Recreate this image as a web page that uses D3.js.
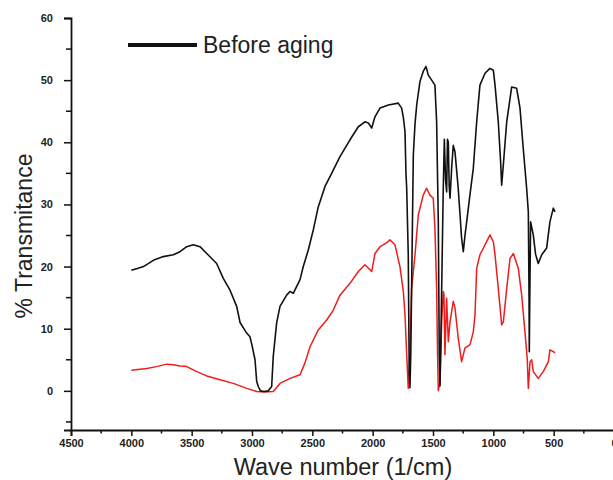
<!DOCTYPE html>
<html>
<head>
<meta charset="utf-8">
<script src="https://cdn.jsdelivr.net/npm/d3@7"></script>
<style>
  html, body { margin: 0; padding: 0; background: #fff; }
  svg { display: block; }
</style>
</head>
<body>
<svg id="chart" width="613" height="480"></svg>
<script>
// ---- data ----
const xTicks = [4500, 4000, 3500, 3000, 2500, 2000, 1500, 1000, 500, 0];
const yTicks = [0, 10, 20, 30, 40, 50, 60];
const legendLabel = "Before aging";
const xTitle = "Wave number (1/cm)";
const yTitle = "% Transmitance";

const beforeWave = [4000,3950,3900,3850,3818,3735,3652,3597,3541,3486,3431,3375,3293,3238,3182,3127,3099,3044,3017,3003,2975,2961,2948,2930,2900,2865,2837,2824,2796,2768,2713,2685,2658,2602,2575,2533,2492,2451,2395,2340,2271,2188,2119,2064,2036,2008,1981,1939,1870,1788,1760,1746,1732,1724,1718,1705,1697,1691,1684,1677,1663,1649,1635,1608,1581,1558,1539,1511,1484,1470,1456,1448,1442,1435,1428,1415,1406,1396,1387,1380,1373,1366,1359,1345,1332,1318,1291,1263,1249,1235,1221,1194,1166,1138,1111,1069,1028,1000,986,959,940,931,917,889,848,807,779,752,724,710,704,702,698,691,669,650,628,599,558,531,503,489];
const beforeT = [19.4,19.7,20.0,20.6,21.0,21.6,21.9,22.4,23.2,23.5,23.2,22.1,20.5,18.1,16.2,13.6,11.0,9.3,8.7,7.6,5.0,1.5,0.7,0.0,-0.1,0.0,0.7,5.5,10.9,13.6,15.4,16.0,15.7,17.9,20.0,22.7,25.9,29.6,32.9,35.0,37.7,40.4,42.5,43.3,43.1,42.3,44.1,45.5,46.0,46.3,45.5,44.0,41.7,35.0,32.6,21.9,3.1,0.5,6.0,17.0,38.0,43.0,46.0,49.8,51.4,52.2,50.8,50.0,49.2,43.3,27.2,5.8,0.8,8.0,16.6,32.6,40.5,34.0,32.0,40.5,40.0,33.0,31.0,36.0,39.5,38.5,32.6,24.6,22.4,25.0,27.2,31.5,35.8,43.3,49.2,51.1,51.9,51.6,49.2,43.3,37.0,33.1,36.4,43.3,48.9,48.7,45.5,39.0,32.6,28.8,15.0,6.3,15.0,27.2,25.1,22.0,20.5,21.9,23.0,27.2,29.4,28.8];

const afterWave = [4000,3873,3790,3707,3650,3597,3541,3458,3375,3265,3155,3044,2961,2900,2824,2768,2685,2602,2561,2519,2451,2381,2326,2271,2188,2119,2064,2022,2008,1981,1939,1884,1857,1815,1774,1746,1732,1718,1705,1691,1677,1649,1622,1581,1553,1525,1498,1484,1470,1462,1456,1442,1428,1415,1409,1401,1387,1373,1359,1332,1318,1291,1263,1235,1194,1166,1152,1138,1111,1069,1028,1000,986,959,931,917,889,862,834,793,765,738,719,710,696,682,669,628,586,544,531,503,489];
const afterT = [3.3,3.6,3.9,4.3,4.2,4.0,3.9,3.1,2.4,1.8,1.2,0.4,-0.1,-0.2,-0.1,1.2,2.0,2.6,4.5,7.1,9.8,11.4,13.0,15.4,17.3,19.2,20.3,19.5,19.2,22.1,23.2,23.8,24.3,23.5,20.0,16.0,12.2,5.8,0.4,5.8,16.5,21.9,28.3,31.5,32.6,31.5,31.0,26.2,16.5,5.8,0.0,1.5,11.1,16.0,15.5,5.8,14.9,7.9,11.1,14.4,13.4,8.5,4.7,6.9,7.4,9.5,12.2,19.7,21.9,23.5,25.1,24.0,21.9,16.5,10.6,11.1,16.5,21.3,22.1,19.7,15.4,9.5,5.2,0.4,4.7,5.0,3.1,2.0,3.1,4.7,6.6,6.3,6.1];

// ---- drawing ----
const svg = d3.select("#chart");
const x = d3.scaleLinear().domain([4500, 0]).range([71, 614]);
const y = d3.scaleLinear().domain([-6.3, 60]).range([430, 18]);
const font = "'Liberation Sans', Arial, sans-serif";

const line = d3.line().x(d => x(d[0])).y(d => y(d[1]));

const after = afterWave.map((w, i) => [w, afterT[i]]);
const before = beforeWave.map((w, i) => [w, beforeT[i]]);

svg.append("path").datum(after)
  .attr("d", line).attr("fill", "none")
  .attr("stroke", "#ee1c1c").attr("stroke-width", 1.5).attr("stroke-linejoin", "round");
svg.append("path").datum(before)
  .attr("d", line).attr("fill", "none")
  .attr("stroke", "#111").attr("stroke-width", 1.6).attr("stroke-linejoin", "round");

// x axis
const xMinor = d3.range(4250, -1, -500);
const gx = svg.append("g").attr("transform", `translate(0,${y(-6.3)})`);
gx.call(d3.axisBottom(x).tickValues(xTicks).tickSize(6).tickPadding(3).tickFormat(d3.format("d")));
gx.append("g").selectAll("line").data(xMinor).join("line")
  .attr("x1", d => x(d)).attr("x2", d => x(d)).attr("y1", 0).attr("y2", 3.5)
  .attr("stroke", "#111").attr("stroke-width", 1.5);
gx.select(".domain").attr("stroke", "#111").attr("stroke-width", 1.8);
gx.selectAll(".tick line").attr("stroke", "#111").attr("stroke-width", 1.5);
gx.selectAll(".tick text").attr("font-family", font).attr("font-size", 11)
  .attr("font-weight", "bold").attr("fill", "#222");

// y axis
const yMinor = d3.range(-5, 60, 10);
const gy = svg.append("g").attr("transform", `translate(${x(4500)},0)`);
gy.call(d3.axisLeft(y).tickValues(yTicks).tickSize(7).tickPadding(11).tickFormat(d3.format("d")));
gy.append("g").selectAll("line").data(yMinor).join("line")
  .attr("x1", 0).attr("x2", -5).attr("y1", d => y(d)).attr("y2", d => y(d))
  .attr("stroke", "#111").attr("stroke-width", 1.5);
gy.select(".domain").attr("stroke", "#111").attr("stroke-width", 1.8);
gy.selectAll(".tick line").attr("stroke", "#111").attr("stroke-width", 1.5);
gy.selectAll(".tick text").attr("font-family", font).attr("font-size", 11)
  .attr("font-weight", "bold").attr("fill", "#222");

// titles
svg.append("text").attr("x", 343).attr("y", 475)
  .attr("text-anchor", "middle").attr("font-family", font).attr("font-size", 23.5)
  .attr("fill", "#222").text(xTitle);
svg.append("text").attr("transform", "translate(32,236) rotate(-90)")
  .attr("text-anchor", "middle").attr("font-family", font).attr("font-size", 23)
  .attr("fill", "#222").text(yTitle);

// legend
svg.append("line").attr("x1", 128).attr("x2", 197).attr("y1", 45).attr("y2", 45)
  .attr("stroke", "#111").attr("stroke-width", 4);
svg.append("text").attr("x", 203).attr("y", 53)
  .attr("font-family", font).attr("font-size", 23).attr("fill", "#222").text(legendLabel);
</script>
</body>
</html>
